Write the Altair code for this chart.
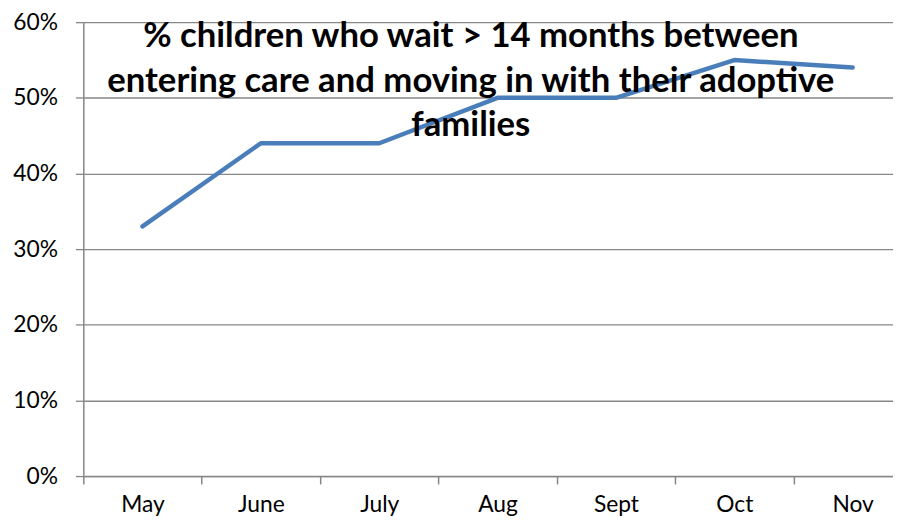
import altair as alt
import pandas as pd

months = ["May", "June", "July", "Aug", "Sept", "Oct", "Nov"]
values = [0.33, 0.44, 0.44, 0.50, 0.50, 0.55, 0.54]
y_ticks = [0.0, 0.1, 0.2, 0.3, 0.4, 0.5, 0.6]
title_lines = [
    "% children who wait > 14 months between",
    "entering care and moving in with their adoptive",
    "families",
]

df = pd.DataFrame({"month": months, "value": values})

line = alt.Chart(df).mark_line(
    color="#4a7ebb", strokeWidth=4.5, strokeCap="round", strokeJoin="round"
).encode(
    x=alt.X(
        "month:N",
        sort=months,
        scale=alt.Scale(type="band", range=[0, 836], paddingInner=0, paddingOuter=0),
        axis=alt.Axis(
            title=None, labelAngle=0, tickBand="extent", grid=False,
            tickSize=8, labelPadding=28, labelBaseline="alphabetic",
            labelFontSize=23, labelFont="Lato",
            labelColor="#000000", domainColor="#868686", tickColor="#868686",
            domainWidth=1.5, tickWidth=1.5,
        ),
    ),
    y=alt.Y(
        "value:Q",
        scale=alt.Scale(domain=[0, 0.6], nice=False),
        axis=alt.Axis(
            title=None, values=y_ticks, format=".0%", grid=True,
            gridColor="#868686", gridWidth=1.3, tickSize=8, labelPadding=18,
            labelFontSize=23, labelFont="Lato", labelColor="#000000",
            domainColor="#868686", tickColor="#868686", domainWidth=1.5,
            tickWidth=1.3,
        ),
    ),
)

title = alt.Chart(pd.DataFrame({"k": [0]})).mark_text(
    text=title_lines, font="Lato", fontSize=35, fontWeight="bold",
    color="#000000", lineHeight=45, align="center", baseline="alphabetic",
).encode(x=alt.value(391), y=alt.value(25))

chart = alt.layer(line, title).properties(
    width=817, height=458,
    padding={"left": 76, "top": 12, "right": 0, "bottom": 40},
    autosize=alt.AutoSizeParams(type="none"),
).configure_view(strokeWidth=0)

chart.save("out.html", embed_options={"renderer": "svg", "actions": False})
